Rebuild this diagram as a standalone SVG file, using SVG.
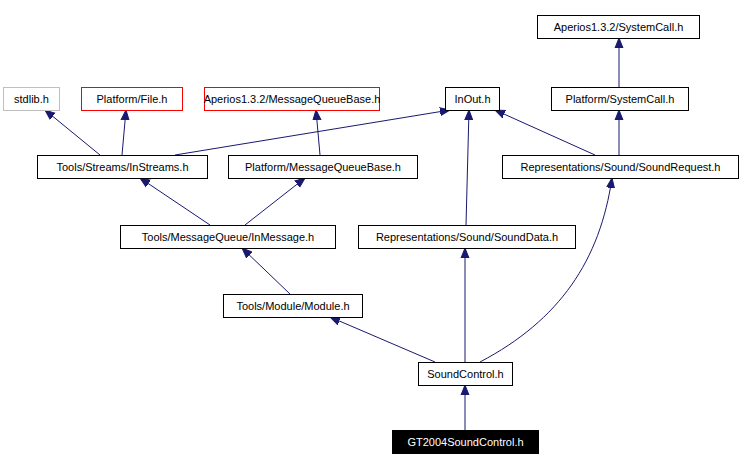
<svg xmlns="http://www.w3.org/2000/svg" width="743" height="471" viewBox="0 0 743 471">
<style>
.n rect{fill:#fff;stroke:#000;stroke-width:1}
.n text{font-family:"Liberation Sans",Arial,sans-serif;font-size:11px;text-anchor:middle;fill:#000}
.e path{fill:none;stroke:#191970;stroke-width:1}
</style>
<defs><marker id="a" viewBox="0 0 10 10" refX="10" refY="5" markerWidth="10" markerHeight="10" markerUnits="userSpaceOnUse" orient="auto"><path d="M0,1 L10,5 L0,9 z" fill="#191970" stroke="#191970"/></marker></defs>
<rect width="743" height="471" fill="#fff"/>
<g class="e">
<path d="M619,87 L619,38" marker-end="url(#a)"/>
<path d="M100,155 L45,110" marker-end="url(#a)"/>
<path d="M122,155 L126,110" marker-end="url(#a)"/>
<path d="M175,155 L450,110" marker-end="url(#a)"/>
<path d="M320,155 L316,110" marker-end="url(#a)"/>
<path d="M595,155 L495,110" marker-end="url(#a)"/>
<path d="M619,155 L619,110" marker-end="url(#a)"/>
<path d="M210,225 L140,178" marker-end="url(#a)"/>
<path d="M245,225 L305,178" marker-end="url(#a)"/>
<path d="M466,225 L469,110" marker-end="url(#a)"/>
<path d="M290,294 L242,248" marker-end="url(#a)"/>
<path d="M435,362 L330,317" marker-end="url(#a)"/>
<path d="M465,362 L465,248" marker-end="url(#a)"/>
<path d="M480,362 C560,320 600,260 612,178" marker-end="url(#a)"/>
<path d="M465,430 L465,385" marker-end="url(#a)"/>
</g>
<g id="n1" class="n"><rect x="537.5" y="15.5" width="162" height="23"/><text x="618.5" y="31">Aperios1.3.2/SystemCall.h</text></g>
<g id="n2" class="n"><rect x="3.5" y="87.5" width="56" height="23" style="stroke:#bfbfbf"/><text x="31.5" y="103">stdlib.h</text></g>
<g id="n3" class="n"><rect x="81.5" y="87.5" width="101" height="23" style="stroke:#f00"/><text x="132" y="103">Platform/File.h</text></g>
<g id="n4" class="n"><rect x="204.5" y="87.5" width="175" height="23" style="stroke:#f00"/><text x="292" y="103">Aperios1.3.2/MessageQueueBase.h</text></g>
<g id="n5" class="n"><rect x="445.5" y="87.5" width="54" height="23"/><text x="472.5" y="103">InOut.h</text></g>
<g id="n6" class="n"><rect x="551.5" y="87.5" width="137" height="23"/><text x="620" y="103">Platform/SystemCall.h</text></g>
<g id="n7" class="n"><rect x="37.5" y="155.5" width="170" height="23"/><text x="122.5" y="171">Tools/Streams/InStreams.h</text></g>
<g id="n8" class="n"><rect x="228.5" y="155.5" width="189" height="23"/><text x="323" y="171">Platform/MessageQueueBase.h</text></g>
<g id="n9" class="n"><rect x="502.5" y="155.5" width="236" height="23"/><text x="620.5" y="171">Representations/Sound/SoundRequest.h</text></g>
<g id="n10" class="n"><rect x="120.5" y="225.5" width="215" height="23"/><text x="228" y="241">Tools/MessageQueue/InMessage.h</text></g>
<g id="n11" class="n"><rect x="358.5" y="225.5" width="217" height="23"/><text x="467" y="241">Representations/Sound/SoundData.h</text></g>
<g id="n12" class="n"><rect x="223.5" y="294.5" width="139" height="23"/><text x="293" y="310">Tools/Module/Module.h</text></g>
<g id="n13" class="n"><rect x="418.5" y="362.5" width="94" height="23"/><text x="465.5" y="378">SoundControl.h</text></g>
<g id="n14" class="n"><rect x="392.5" y="430.5" width="146" height="23" style="fill:#000"/><text x="465.5" y="446" style="fill:#fff">GT2004SoundControl.h</text></g>
</svg>
